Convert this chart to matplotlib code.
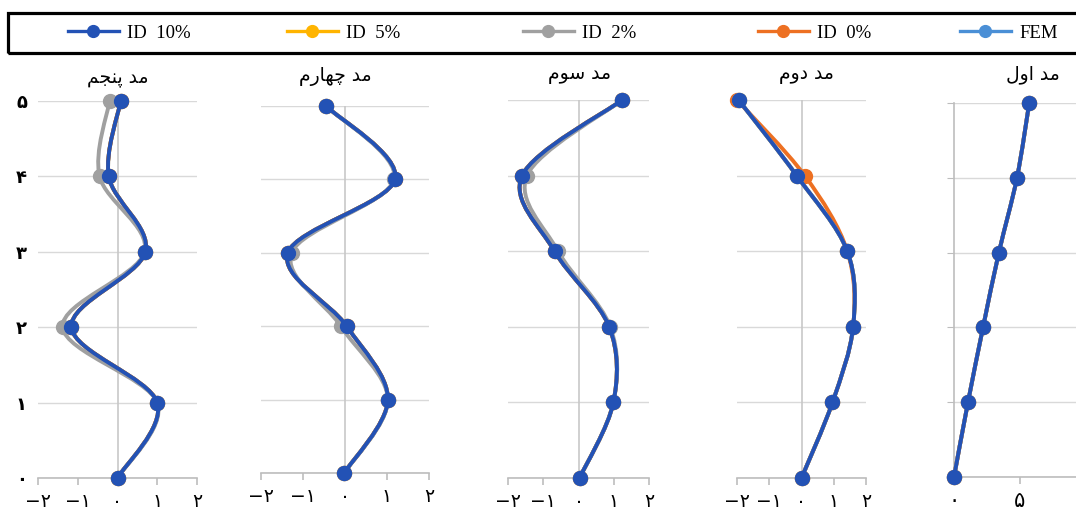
import numpy as np
import matplotlib
matplotlib.use("Agg")
import matplotlib.pyplot as plt
from matplotlib.path import Path
from matplotlib.patches import PathPatch, Rectangle
from matplotlib.lines import Line2D

# floor levels (y) shared by every mode shape
floors = [0, 1, 2, 3, 4, 5]

# mode titles (Persian, written in visual order with presentation forms)
titles = [
    "\uFEE2\uFEA0\uFEE8\uFB58 \uFEAA\uFEE3",        # mad panjom
    "\uFEE1\uFEAD\uFE8E\uFEEC\uFB7C \uFEAA\uFEE3",  # mad chaharom
    "\uFEE1\uFEEE\uFEB3 \uFEAA\uFEE3",              # mad sevom
    "\uFEE1\uFEED\uFEA9 \uFEAA\uFEE3",              # mad dovom
    "\uFEDD\uFEED\uFE8D \uFEAA\uFEE3",              # mad aval
]

# mode shapes, one list per series and mode
mode5_id10 = [0.0, 1.0, -1.16, 0.70, -0.22, 0.08]
mode5_id2 = [0.0, 1.0, -1.38, 0.68, -0.45, -0.20]
mode4_id10 = [-0.02, 1.02, 0.04, -1.36, 1.19, -0.45]
mode4_id2 = [-0.02, 1.02, -0.10, -1.27, 1.17, -0.45]
mode3_id10 = [0.03, 0.99, 0.87, -0.68, -1.60, 1.24]
mode3_id2 = [0.03, 0.99, 0.90, -0.58, -1.46, 1.24]
mode2_id10 = [0.0, 0.96, 1.60, 1.42, -0.15, -1.95]
mode2_id0 = [0.0, 0.96, 1.60, 1.42, 0.10, -2.0]
mode1_id10 = [0.0, 1.06, 2.20, 3.40, 4.77, 5.70]

series_names = ["ID 10%", "ID 5%", "ID 2%", "ID 0%", "FEM"]
series_colors = ["#2352b5", "#ffb400", "#a0a0a0", "#ed7022", "#4a8fd6"]

# per panel: series values
panel_data = [
    {"FEM": mode5_id10, "ID 0%": mode5_id10, "ID 2%": mode5_id2, "ID 5%": mode5_id10, "ID 10%": mode5_id10},
    {"FEM": mode4_id10, "ID 0%": mode4_id10, "ID 2%": mode4_id2, "ID 5%": mode4_id10, "ID 10%": mode4_id10},
    {"FEM": mode3_id10, "ID 0%": mode3_id10, "ID 2%": mode3_id2, "ID 5%": mode3_id10, "ID 10%": mode3_id10},
    {"FEM": mode2_id10, "ID 0%": mode2_id0, "ID 2%": mode2_id10, "ID 5%": mode2_id10, "ID 10%": mode2_id10},
    {"FEM": mode1_id10, "ID 0%": mode1_id10, "ID 2%": mode1_id10, "ID 5%": mode1_id10, "ID 10%": mode1_id10},
]
draw_order = ["FEM", "ID 5%", "ID 0%", "ID 2%", "ID 10%"]

x_ticks_small = [-2, -1, 0, 1, 2]
x_ticks_first = [0, 5]

fa = str.maketrans("0123456789-", "\u06F0\u06F1\u06F2\u06F3\u06F4\u06F5\u06F6\u06F7\u06F8\u06F9\u2212")


def smooth_path(xs, ys):
    # Catmull-Rom through the data points, as cubic Bezier segments
    pts = np.column_stack([xs, ys]).astype(float)
    ext = np.vstack([pts[0], pts, pts[-1]])
    verts = [pts[0]]
    codes = [Path.MOVETO]
    for i in range(len(pts) - 1):
        p0, p1, p2, p3 = ext[i], ext[i + 1], ext[i + 2], ext[i + 3]
        verts += [p1 + (p2 - p0) / 6, p2 - (p3 - p1) / 6, p2]
        codes += [Path.CURVE4] * 3
    return Path(verts, codes)


W, H = 1076, 509
fig = plt.figure(figsize=(W / 100, H / 100), dpi=100)

# panel boxes in pixels: left, right, top, bottom, xmin, xmax
boxes = [
    (38, 197, 101, 478, -2, 2),
    (261, 429, 106, 473, -2, 2),
    (508, 649, 100, 478, -2, 2),
    (737, 866, 100, 478, -2, 2),
    (954, 1086, 103, 477, 0, 10),
]
title_pos = [(118, 78), (335, 76), (580, 74), (806, 74), (1033, 74)]

grid_c = "#d9d9d9"
axis_c = "#bdbdbd"

for k, (l, r, t, b, x0, x1) in enumerate(boxes):
    ax = fig.add_axes([l / W, 1 - b / H, (r - l) / W, (b - t) / H])
    ax.set_xlim(x0, x1)
    ax.set_ylim(0, 5)
    for s in ["top", "right", "left"]:
        ax.spines[s].set_visible(False)
    ax.spines["bottom"].set_color(axis_c)
    ax.spines["bottom"].set_linewidth(1.2)
    ax.grid(axis="y", color=grid_c, lw=1.0)
    ax.set_axisbelow(True)
    ax.set_yticks(floors)

    if k < 4:
        ax.axvline(0, color="#c8c8c8", lw=1.2, zorder=1)
        ax.set_xticks(x_ticks_small)
        ax.set_xticklabels([str(v).translate(fa) for v in x_ticks_small],
                           family="DejaVu Sans", fontsize=13.5)
    else:
        ax.spines["left"].set_visible(True)
        ax.spines["left"].set_color(axis_c)
        ax.spines["left"].set_linewidth(1.2)
        ax.set_xticks(x_ticks_first)
        ax.set_xticklabels([str(v).translate(fa) for v in x_ticks_first],
                           family="DejaVu Sans", fontsize=15)
    ax.tick_params(axis="x", colors=axis_c, length=5, width=1.2,
                   labelcolor="black", pad=5)

    if k == 0:
        ax.set_yticklabels([str(v).translate(fa) for v in floors],
                           family="DejaVu Sans", fontsize=13, fontweight="bold")
        ax.tick_params(axis="y", length=0, pad=8)
    else:
        ax.set_yticklabels([])
        ax.tick_params(axis="y", length=5 if k == 4 else 0, colors=axis_c)

    data = panel_data[k]
    for name in draw_order:
        c = series_colors[series_names.index(name)]
        z = 3 + draw_order.index(name)
        xs = data[name]
        ax.add_patch(PathPatch(smooth_path(xs, floors), fill=False, edgecolor=c,
                               lw=2.8, clip_on=False, zorder=z,
                               capstyle="round", joinstyle="round"))
        ax.plot(xs, floors, "o", color=c, ms=10, mec=c, clip_on=False, zorder=z)

    tx, ty = title_pos[k]
    fig.text(tx / W, 1 - ty / H, titles[k], family="DejaVu Sans", fontsize=13.5,
             ha="center", va="center")

# legend box across the top
fig.patches.append(Rectangle((8 / W, 1 - 53 / H), 1.0, 40 / H, transform=fig.transFigure,
                             fill=False, edgecolor="black", lw=2.3, clip_on=False))

legend_x = [68, 287, 523, 758, 960]
for name, lx in zip(series_names, legend_x):
    c = series_colors[series_names.index(name)]
    h = Line2D([0], [0], color=c, lw=2.4, marker="o", ms=8.5)
    fig.legend(handles=[h], labels=[name.replace(" ", "  ")], loc="center left",
               bbox_to_anchor=(lx / W, 1 - 33 / H), frameon=False,
               handlelength=2.7, handletextpad=0.45, borderpad=0, borderaxespad=0,
               prop={"family": "Liberation Serif", "size": 13.5})

fig.savefig("out.png", dpi=100)
